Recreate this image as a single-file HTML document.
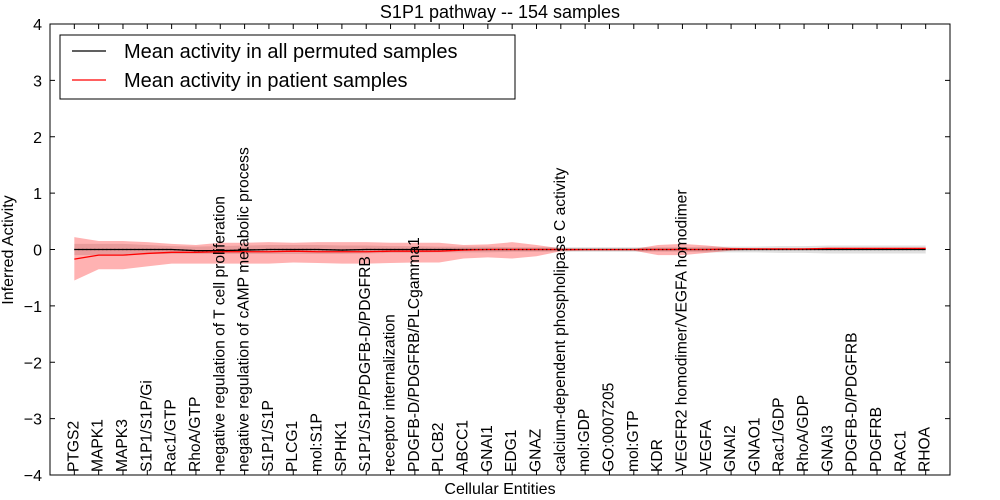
<!DOCTYPE html>
<html><head><meta charset="utf-8"><style>
body{margin:0;background:#fff;}
svg{display:block;font-family:"Liberation Sans","DejaVu Sans",sans-serif;}
</style></head><body>
<svg id="c" width="1000" height="500"></svg>
<script>
const categories=["PTGS2","MAPK1","MAPK3","S1P1/S1P/Gi","Rac1/GTP","RhoA/GTP","negative regulation of T cell proliferation","negative regulation of cAMP metabolic process","S1P1/S1P","PLCG1","mol:S1P","SPHK1","S1P1/S1P/PDGFB-D/PDGFRB","receptor internalization","PDGFB-D/PDGFRB/PLCgamma1","PLCB2","ABCC1","GNAI1","EDG1","GNAZ","calcium-dependent phospholipase C activity","mol:GDP","GO:0007205","mol:GTP","KDR","VEGFR2 homodimer/VEGFA homodimer","VEGFA","GNAI2","GNAO1","Rac1/GDP","RhoA/GDP","GNAI3","PDGFB-D/PDGFRB","PDGFRB","RAC1","RHOA"];
const patientMean=[-0.17,-0.1,-0.1,-0.07,-0.05,-0.05,-0.04,-0.04,-0.04,-0.03,-0.04,-0.04,-0.04,-0.03,-0.03,-0.03,-0.01,0,0,0,0,0,0,0,0,0,0,0.01,0.01,0.01,0.01,0.02,0.02,0.02,0.02,0.02];
const patientUpper=[0.22,0.15,0.15,0.13,0.1,0.08,0.12,0.12,0.13,0.12,0.13,0.13,0.13,0.12,0.12,0.12,0.08,0.09,0.13,0.08,0.02,0.01,0.01,0.01,0.08,0.1,0.07,0.03,0.02,0.02,0.02,0.03,0.03,0.03,0.03,0.03];
const patientLower=[-0.55,-0.35,-0.35,-0.3,-0.25,-0.25,-0.25,-0.25,-0.25,-0.23,-0.24,-0.25,-0.25,-0.24,-0.23,-0.23,-0.16,-0.14,-0.16,-0.12,-0.03,-0.02,-0.02,-0.02,-0.1,-0.1,-0.06,-0.02,0,0,0.01,0.01,0.01,0.01,0.01,0.01];
const permMean=[0,0,0,0,0,-0.02,-0.02,-0.01,0,0,0,-0.01,0,0,0,0,0,0,0,0,0,0,0,0,0,0,0,0,0,0,0,0,0,0,0,0];
const permUpper=[0.1,0.1,0.1,0.08,0.06,0.05,0.06,0.07,0.08,0.08,0.08,0.07,0.07,0.06,0.06,0.05,0.05,0.05,0.04,0.04,0.04,0.04,0.04,0.04,0.04,0.04,0.05,0.05,0.05,0.06,0.06,0.07,0.07,0.07,0.07,0.07];
const permLower=[-0.1,-0.1,-0.1,-0.08,-0.08,-0.08,-0.08,-0.08,-0.08,-0.08,-0.08,-0.08,-0.07,-0.06,-0.06,-0.05,-0.05,-0.05,-0.04,-0.04,-0.04,-0.04,-0.04,-0.04,-0.04,-0.04,-0.05,-0.05,-0.05,-0.06,-0.06,-0.07,-0.07,-0.07,-0.07,-0.07];
const yTicks=[-4,-3,-2,-1,0,1,2,3,4];
const L=50,R=950,T=24,B=475,NS="http://www.w3.org/2000/svg";
const x=i=>L+(i+1)*(R-L)/(categories.length+1);
const y=v=>B-(v+4)/8*(B-T);
const svg=document.getElementById('c');
function mk(t,a,p){const e=document.createElementNS(NS,t);for(const k in a)e.setAttribute(k,a[k]);(p||svg).appendChild(e);return e;}
function band(up,lo,fill,op,name){let d=up.map((v,i)=>(i?'L':'M')+x(i)+' '+y(v)).join(' ');for(let i=lo.length-1;i>=0;i--)d+=' L'+x(i)+' '+y(lo[i]);const p=mk('path',{d:d+'Z',fill:fill,'fill-opacity':op});

}
function line(vals,col,name,dash){const p=mk('path',{d:vals.map((v,i)=>(i?'L':'M')+x(i)+' '+y(v)).join(' '),stroke:col,fill:'none','stroke-width':1.3});if(dash)p.setAttribute('stroke-dasharray',dash);

}
band(permUpper,permLower,'#999',0.3,'permuted-band');
band(patientUpper,patientLower,'#ff0000',0.3,'patient-band');
line(permMean,'#000','permuted-mean-line');
line(patientMean,'#ff0000','patient-mean-line');
line(permMean,'#000','permuted-mean-dots','1 3');
mk('rect',{x:L,y:T,width:R-L,height:B-T,fill:'none',stroke:'#000'});
yTicks.forEach(v=>{const yy=y(v);mk('line',{x1:L,x2:L+5,y1:yy,y2:yy,stroke:'#000'});mk('line',{x1:R,x2:R-5,y1:yy,y2:yy,stroke:'#000'});
const t=mk('text',{x:L-8,y:yy+6,'text-anchor':'end','font-size':16});t.textContent=(v<0?'\u2212'+(-v):v);

});
categories.forEach((c,i)=>{const xx=x(i);mk('line',{x1:xx,x2:xx,y1:B,y2:B-5,stroke:'#000'});mk('line',{x1:xx,x2:xx,y1:T,y2:T+5,stroke:'#000'});
const t=mk('text',{transform:`translate(${xx+4},472) rotate(-90)`,'font-size':15.6});t.textContent=c;

});
let t=mk('text',{x:500,y:18,'text-anchor':'middle','font-size':18});t.textContent='S1P1 pathway -- 154 samples';
t=mk('text',{x:500,y:494,'text-anchor':'middle','font-size':16});t.textContent='Cellular Entities';
t=mk('text',{transform:'translate(13,250) rotate(-90)','text-anchor':'middle','font-size':16});t.textContent='Inferred Activity';
const g=mk('g',{});
mk('rect',{x:60,y:35,width:455,height:64,fill:'#fff',stroke:'#000'},g);
mk('line',{x1:72,x2:106,y1:51,y2:51,stroke:'#000','stroke-width':1.3},g);
mk('line',{x1:72,x2:106,y1:80,y2:80,stroke:'#f00','stroke-width':1.3},g);
t=mk('text',{x:124,y:58,'font-size':20},g);t.textContent='Mean activity in all permuted samples';
t=mk('text',{x:124,y:87,'font-size':20},g);t.textContent='Mean activity in patient samples';
</script>
</body></html>
